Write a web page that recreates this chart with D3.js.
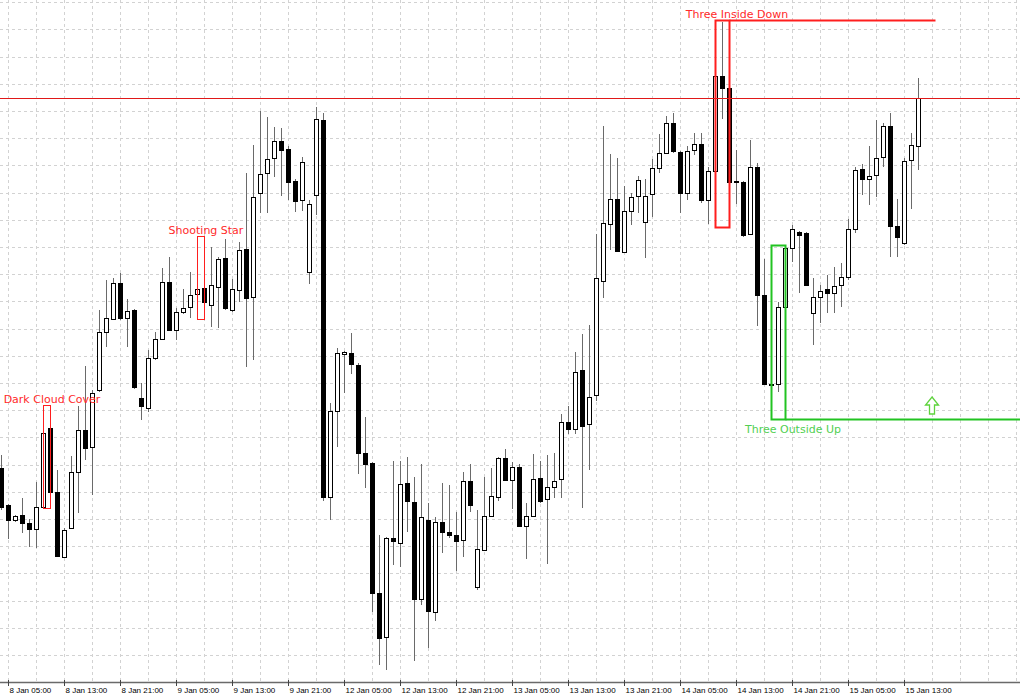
<!DOCTYPE html>
<html><head><meta charset="utf-8">
<script src="https://cdn.jsdelivr.net/npm/d3@7"></script>
<style>html,body{margin:0;padding:0;background:#fff;} svg{display:block;}</style>
</head><body>
<svg id="chart" width="1020" height="700"></svg>
<script>
// ---- DATA (hourly candles, 8 Jan 04:00 onward) ----
const open = [
1.2213,1.2176,1.2161,1.2166,1.2158,1.2152,1.2174,1.2253,1.2189,1.2124,
1.2153,1.2209,1.2251,1.2234,1.2291,1.2349,1.2362,1.2398,1.2363,1.2371,
1.2283,1.2273,1.2323,1.2342,1.2399,1.2351,1.2369,1.2374,1.2387,1.2393,
1.2376,1.2394,1.2423,1.2371,1.2391,1.2432,1.2384,1.2488,1.2508,1.2523,
1.2540,1.2532,1.2500,1.2481,1.2409,1.2486,1.2561,1.2184,1.2270,1.2327,
1.2328,1.2316,1.2228,1.2218,1.2088,1.2044,1.2143,1.2138,1.2198,1.2179,
1.2082,1.2161,1.2069,1.2159,1.2149,1.2146,1.2141,1.2200,1.2094,1.2131,
1.2165,1.2184,1.2223,1.2201,1.2214,1.2155,1.2165,1.2203,1.2182,1.2194,
1.2202,1.2259,1.2252,1.2311,1.2257,1.2286,1.2400,1.2457,1.2482,1.2429,
1.2470,1.2485,1.2459,1.2487,1.2513,1.2528,1.2558,1.2529,1.2488,1.2531,
1.2537,1.2481,1.2510,1.2605,1.2593,1.2500,1.2499,1.2447,1.2514,1.2386,
1.2297,1.2297,1.2374,1.2433,1.2449,1.2448,1.2368,1.2384,1.2392,1.2388,
1.2396,1.2404,1.2452,1.2512,1.2502,1.2506,1.2524,1.2555,1.2455,1.2438,
1.2521,1.2535];
const high = [
1.2226,1.2177,1.2166,1.2183,1.2162,1.2199,1.2274,1.2255,1.2211,1.2153,
1.2225,1.2275,1.2315,1.2291,1.2371,1.2401,1.2403,1.2408,1.2382,1.2372,
1.2298,1.2331,1.2349,1.2413,1.2424,1.2373,1.2392,1.2409,1.2443,1.2396,
1.2434,1.2424,1.2442,1.2402,1.2439,1.2508,1.2536,1.2570,1.2564,1.2554,
1.2553,1.2535,1.2502,1.2524,1.2481,1.2574,1.2568,1.2278,1.2333,1.2330,
1.2348,1.2318,1.2264,1.2219,1.2146,1.2144,1.2220,1.2220,1.2224,1.2204,
1.2217,1.2178,1.2164,1.2198,1.2196,1.2169,1.2209,1.2217,1.2171,1.2204,
1.2213,1.2224,1.2232,1.2219,1.2217,1.2178,1.2227,1.2220,1.2226,1.2228,
1.2267,1.2275,1.2329,1.2347,1.2356,1.2447,1.2555,1.2527,1.2523,1.2495,
1.2488,1.2505,1.2502,1.2522,1.2547,1.2565,1.2568,1.2530,1.2535,1.2548,
1.2548,1.2514,1.2611,1.2659,1.2595,1.2531,1.2500,1.2541,1.2518,1.2422,
1.2331,1.2379,1.2434,1.2456,1.2450,1.2449,1.2403,1.2396,1.2406,1.2414,
1.2418,1.2462,1.2514,1.2517,1.2535,1.2561,1.2558,1.2568,1.2482,1.2523,
1.2548,1.2603];
const low = [
1.2171,1.2142,1.2159,1.2148,1.2134,1.2133,1.2173,1.2187,1.2124,1.2123,
1.2152,1.2168,1.2221,1.2186,1.2289,1.2334,1.2361,1.2361,1.2334,1.2292,
1.2261,1.2269,1.2321,1.2341,1.2350,1.2341,1.2367,1.2363,1.2383,1.2362,
1.2354,1.2353,1.2371,1.2369,1.2379,1.2314,1.2321,1.2468,1.2468,1.2504,
1.2485,1.2481,1.2469,1.2470,1.2397,1.2466,1.2180,1.2161,1.2234,1.2288,
1.2307,1.2207,1.2193,1.2069,1.2016,1.2011,1.2116,1.2114,1.2149,1.2020,
1.2076,1.2033,1.2060,1.2128,1.2143,1.2110,1.2124,1.2169,1.2091,1.2130,
1.2164,1.2180,1.2200,1.2172,1.2154,1.2122,1.2164,1.2178,1.2117,1.2183,
1.2183,1.2247,1.2247,1.2173,1.2211,1.2280,1.2383,1.2431,1.2429,1.2428,
1.2456,1.2468,1.2423,1.2464,1.2508,1.2528,1.2528,1.2468,1.2481,1.2526,
1.2478,1.2457,1.2454,1.2562,1.2491,1.2477,1.2444,1.2446,1.2355,1.2296,
1.2262,1.2289,1.2373,1.2419,1.2388,1.2395,1.2336,1.2358,1.2368,1.2368,
1.2374,1.2401,1.2448,1.2486,1.2476,1.2484,1.2514,1.2424,1.2424,1.2436,
1.2472,1.2511];
const close = [
1.2174,1.2161,1.2165,1.2158,1.2152,1.2174,1.2248,1.2189,1.2125,1.2151,
1.2209,1.2251,1.2233,1.2288,1.2349,1.2363,1.2398,1.2363,1.2370,1.2294,
1.2275,1.2323,1.2342,1.2399,1.2351,1.2369,1.2373,1.2386,1.2392,1.2379,
1.2396,1.2422,1.2373,1.2392,1.2431,1.2383,1.2484,1.2507,1.2522,1.2540,
1.2531,1.2499,1.2480,1.2519,1.2477,1.2562,1.2184,1.2270,1.2328,1.2329,
1.2317,1.2228,1.2217,1.2088,1.2043,1.2143,1.2140,1.2197,1.2180,1.2082,
1.2164,1.2070,1.2159,1.2149,1.2146,1.2140,1.2200,1.2176,1.2132,1.2165,
1.2185,1.2223,1.2201,1.2214,1.2155,1.2165,1.2202,1.2180,1.2194,1.2200,
1.2259,1.2252,1.2309,1.2255,1.2284,1.2403,1.2458,1.2482,1.2430,1.2470,
1.2484,1.2501,1.2485,1.2513,1.2528,1.2558,1.2530,1.2488,1.2530,1.2537,
1.2481,1.2510,1.2605,1.2593,1.2499,1.2499,1.2446,1.2514,1.2386,1.2297,
1.2296,1.2374,1.2433,1.2452,1.2446,1.2396,1.2384,1.2390,1.2388,1.2395,
1.2404,1.2452,1.2511,1.2502,1.2505,1.2523,1.2555,1.2455,1.2444,1.2520,
1.2536,1.2583];

const tickLabels = ["8 Jan 05:00","8 Jan 13:00","8 Jan 21:00","9 Jan 05:00","9 Jan 13:00","9 Jan 21:00",
  "12 Jan 05:00","12 Jan 13:00","12 Jan 21:00","13 Jan 05:00","13 Jan 13:00","13 Jan 21:00",
  "14 Jan 05:00","14 Jan 13:00","14 Jan 21:00","15 Jan 05:00","15 Jan 13:00"];

const resistanceLevel = 1.2583;

const patternNames = ["Dark Cloud Cover","Shooting Star","Three Inside Down","Three Outside Up"];
const patternFirstBar = [6, 28, 102, 110];
const patternLastBar  = [7, 29, 104, 112];
const patternBullish  = [false, false, false, true];
const patternLevelEndBar = [null, null, 133.5, 146];   // signal level continuation
const signalArrowBar = 133, signalArrowPrice = 1.2267;

// ---- LAYOUT ----
const W = 1020, H = 700, plotBottom = 682;
const svg = d3.select("#chart");

// hourly bar times skipping weekend
const times = [];
{ let t = Date.UTC(2015,0,8,4);
  while (times.length < 150) { const d = new Date(t); const wd = d.getUTCDay();
    if (wd !== 0 && wd !== 6) times.push(`${d.getUTCDate()} Jan ${String(d.getUTCHours()).padStart(2,"0")}:00`);
    t += 3600000; } }

const x = d3.scaleLinear().domain([0, 145]).range([1, 1016]);
const y = d3.scaleLinear().domain([1.2000, 1.2681]).range([681, 0]);

// grid
const gridStep = 0.00272, gridBase = 1.2026;
const hLevels = d3.range(-1, 25).map(k => gridBase + k*gridStep);
const vBars = d3.range(1, 146, 4);
const grid = svg.append("g").attr("stroke", "#d2d2d2").attr("stroke-dasharray", "3,3").attr("stroke-width", 1);
grid.selectAll("line.h").data(hLevels).join("line").attr("class","h")
  .attr("x1", 0).attr("x2", W).attr("y1", d => Math.round(y(d))+0.5).attr("y2", d => Math.round(y(d))+0.5);
grid.selectAll("line.v").data(vBars).join("line").attr("class","v")
  .attr("x1", d => Math.round(x(d))+0.5).attr("x2", d => Math.round(x(d))+0.5).attr("y1", 0).attr("y2", plotBottom);

// candles
const bars = d3.range(open.length).map(i => ({i, o:open[i], h:high[i], l:low[i], c:close[i]}));
const cg = svg.append("g");
cg.selectAll("line.wick").data(bars).join("line").attr("class","wick")
  .attr("x1", d => Math.round(x(d.i))+0.5).attr("x2", d => Math.round(x(d.i))+0.5)
  .attr("y1", d => Math.round(y(d.h))).attr("y2", d => Math.round(y(d.l)))
  .attr("stroke", "#6a6a6a").attr("stroke-width", 1);
cg.selectAll("rect.body").data(bars).join("rect").attr("class","body")
  .attr("x", d => Math.round(x(d.i)) - 2 + 0.5)
  .attr("width", 4)
  .attr("y", d => Math.round(y(Math.max(d.o, d.c))) + 0.5)
  .attr("height", d => Math.max(0.01, Math.round(y(Math.min(d.o, d.c))) - Math.round(y(Math.max(d.o, d.c)))))
  .attr("fill", d => d.c >= d.o ? "#fff" : "#000")
  .attr("stroke", "#000").attr("stroke-width", 1);

// resistance line
svg.append("line").attr("x1", 0).attr("x2", W)
  .attr("y1", Math.round(y(resistanceLevel))+0.5).attr("y2", Math.round(y(resistanceLevel))+0.5)
  .attr("stroke", "#e01818").attr("stroke-width", 1);

// patterns
const pg = svg.append("g");
patternNames.forEach((name, k) => {
  const a = patternFirstBar[k], b = patternLastBar[k];
  const idx = d3.range(a, b+1);
  const top = d3.max(idx, i => high[i]), bot = d3.min(idx, i => low[i]);
  const bull = patternBullish[k];
  const col = bull ? "#22c322" : "#ff1e1e";
  const txtCol = bull ? "#52cf52" : "#ff2a2a";
  const sw = (k >= 2) ? 2 : 1;
  const x0 = Math.round(x(a)) + 0.5, x1 = Math.round(x(b)) + 0.5;
  const yT = Math.round(y(top)) - 2 + 0.5, yB = Math.round(y(bot)) + 0.5;
  pg.append("rect").attr("x", x0).attr("y", yT).attr("width", x1 - x0).attr("height", yB - yT)
    .attr("fill", "none").attr("stroke", col).attr("stroke-width", sw);
  if (patternLevelEndBar[k] != null) {
    const ly = bull ? yB : yT;
    pg.append("line").attr("x1", x1).attr("x2", x(patternLevelEndBar[k]))
      .attr("y1", ly).attr("y2", ly).attr("stroke", col).attr("stroke-width", sw);
  }
  const tx = x(b) + (k >= 2 ? 8 : 2);
  pg.append("text").attr("x", tx).attr("y", bull ? yB + 13 : yT - 3)
    .attr("text-anchor", "middle").attr("fill", txtCol)
    .style("font-family", "'DejaVu Sans', Verdana, sans-serif").style("font-size", "11px")
    .text(name);
});

// signal arrow (hollow up arrow)
{
  const ax = x(signalArrowBar), ay = y(signalArrowPrice);
  const p = [[ax, ay-17],[ax+6.5, ay-9],[ax+2.5, ay-9],[ax+2.5, ay],[ax-2.5, ay],[ax-2.5, ay-9],[ax-6.5, ay-9]];
  svg.append("path").attr("d", "M" + p.map(q => q.join(",")).join("L") + "Z")
    .attr("fill", "#fff").attr("stroke", "#5ed33c").attr("stroke-width", 1.3);
}

// time axis
svg.append("line").attr("x1", 0).attr("x2", W).attr("y1", plotBottom+0.5).attr("y2", plotBottom+0.5)
  .attr("stroke", "#6a6a6a").attr("stroke-width", 1.5);
const ag = svg.append("g");
tickLabels.forEach(lab => {
  const i = times.indexOf(lab);
  const tx = Math.round(x(i)) + 0.5;
  ag.append("line").attr("x1", tx).attr("x2", tx).attr("y1", plotBottom-2).attr("y2", plotBottom+4)
    .attr("stroke", "#444").attr("stroke-width", 1);
  ag.append("text").attr("x", tx + 1).attr("y", 693).attr("fill", "#000")
    .style("font-family", "'Liberation Sans', Arial, sans-serif").style("font-size", "8px")
    .text(lab);
});
</script>
</body></html>
